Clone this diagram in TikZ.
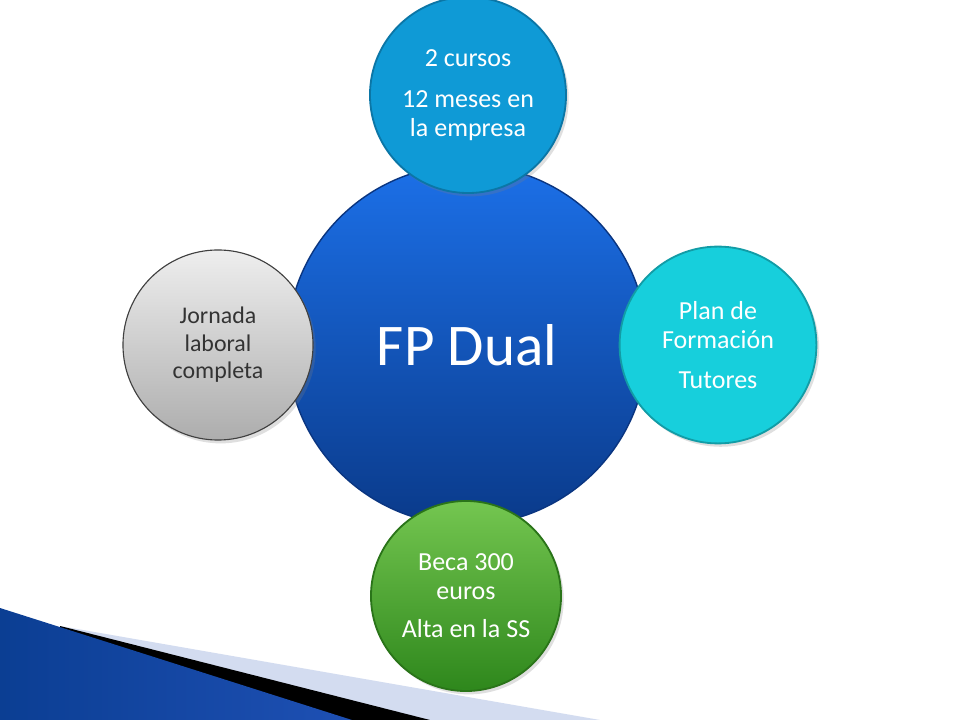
\documentclass[tikz,border=0pt]{standalone}
\usepackage{fontspec}
\setmainfont{Carlito}
\usetikzlibrary{calc,positioning,shadows,backgrounds}

\definecolor{dualtop}{HTML}{1C70E8}
\definecolor{dualbot}{HTML}{0A3A8A}
\definecolor{dualrim}{HTML}{0A3580}
\definecolor{cursofill}{HTML}{0F9AD6}
\definecolor{cursorim}{HTML}{0B76A6}
\definecolor{planfill}{HTML}{17CFDC}
\definecolor{planrim}{HTML}{129CA6}
\definecolor{becatop}{HTML}{74C650}
\definecolor{becabot}{HTML}{2E871C}
\definecolor{becarim}{HTML}{2A7419}
\definecolor{jortop}{HTML}{EEEEEE}
\definecolor{jorbot}{HTML}{ADADAD}
\definecolor{stripe}{HTML}{D3DCF0}
\definecolor{cornerdark}{HTML}{0B3E93}
\definecolor{cornerlight}{HTML}{4C82DC}
\definecolor{cornerright}{HTML}{1E50B4}

\begin{document}
\begin{tikzpicture}[
  x=0.025cm, y=-0.025cm,
  show background rectangle,
  background rectangle/.style={fill=white},
  inner frame sep=0pt,
  bubble/.style={circle,inner sep=0pt,line width=1.3pt,align=center,
    text=white,font=\fontsize{18.5}{20.5}\selectfont,
    drop shadow={shadow xshift=.4ex,shadow yshift=-.5ex,opacity=.25}},
  ]

  \useasboundingbox (0,0) rectangle (960,720);

  % corner ornament
  \fill[stripe] (60,626) -- (600,720) -- (60,720) -- cycle;
  \fill[black] (60,626) -- (430,720) -- (60,720) -- cycle;
  \shade[left color=cornerdark,middle color=cornerlight,right color=cornerright]
    (0,608) -- (352,720) -- (0,720) -- cycle;

  % big circle
  \node (dual) [circle,minimum size=9cm,top color=dualtop,bottom color=dualbot,
    draw=dualrim,line width=1pt,text=white,font=\fontsize{42}{50}\selectfont]
    at (467,345) {FP Dual};

  % small circles round it
  \node (cursos) [bubble,minimum size=4.9cm,fill=cursofill,draw=cursorim]
    at (468,95) {2 cursos\\[8.5pt]12 meses en\\la empresa};
  \node (jornada) [bubble,minimum size=4.75cm,top color=jortop,bottom color=jorbot,
    draw=black!75,line width=.8pt,text=black!80,font=\fontsize{17}{19.5}\selectfont]
    at (218,345) {Jornada\\laboral\\completa};
  \node (plan) [bubble,minimum size=4.92cm,fill=planfill,draw=planrim]
    at (718,345) {Plan de\\Formación\\[8pt]Tutores};
  \node (beca) [bubble,minimum size=4.75cm,top color=becatop,bottom color=becabot,
    draw=becarim]
    at (466,596) {Beca 300\\euros\\[6.5pt]Alta en la SS};

\end{tikzpicture}
\end{document}
